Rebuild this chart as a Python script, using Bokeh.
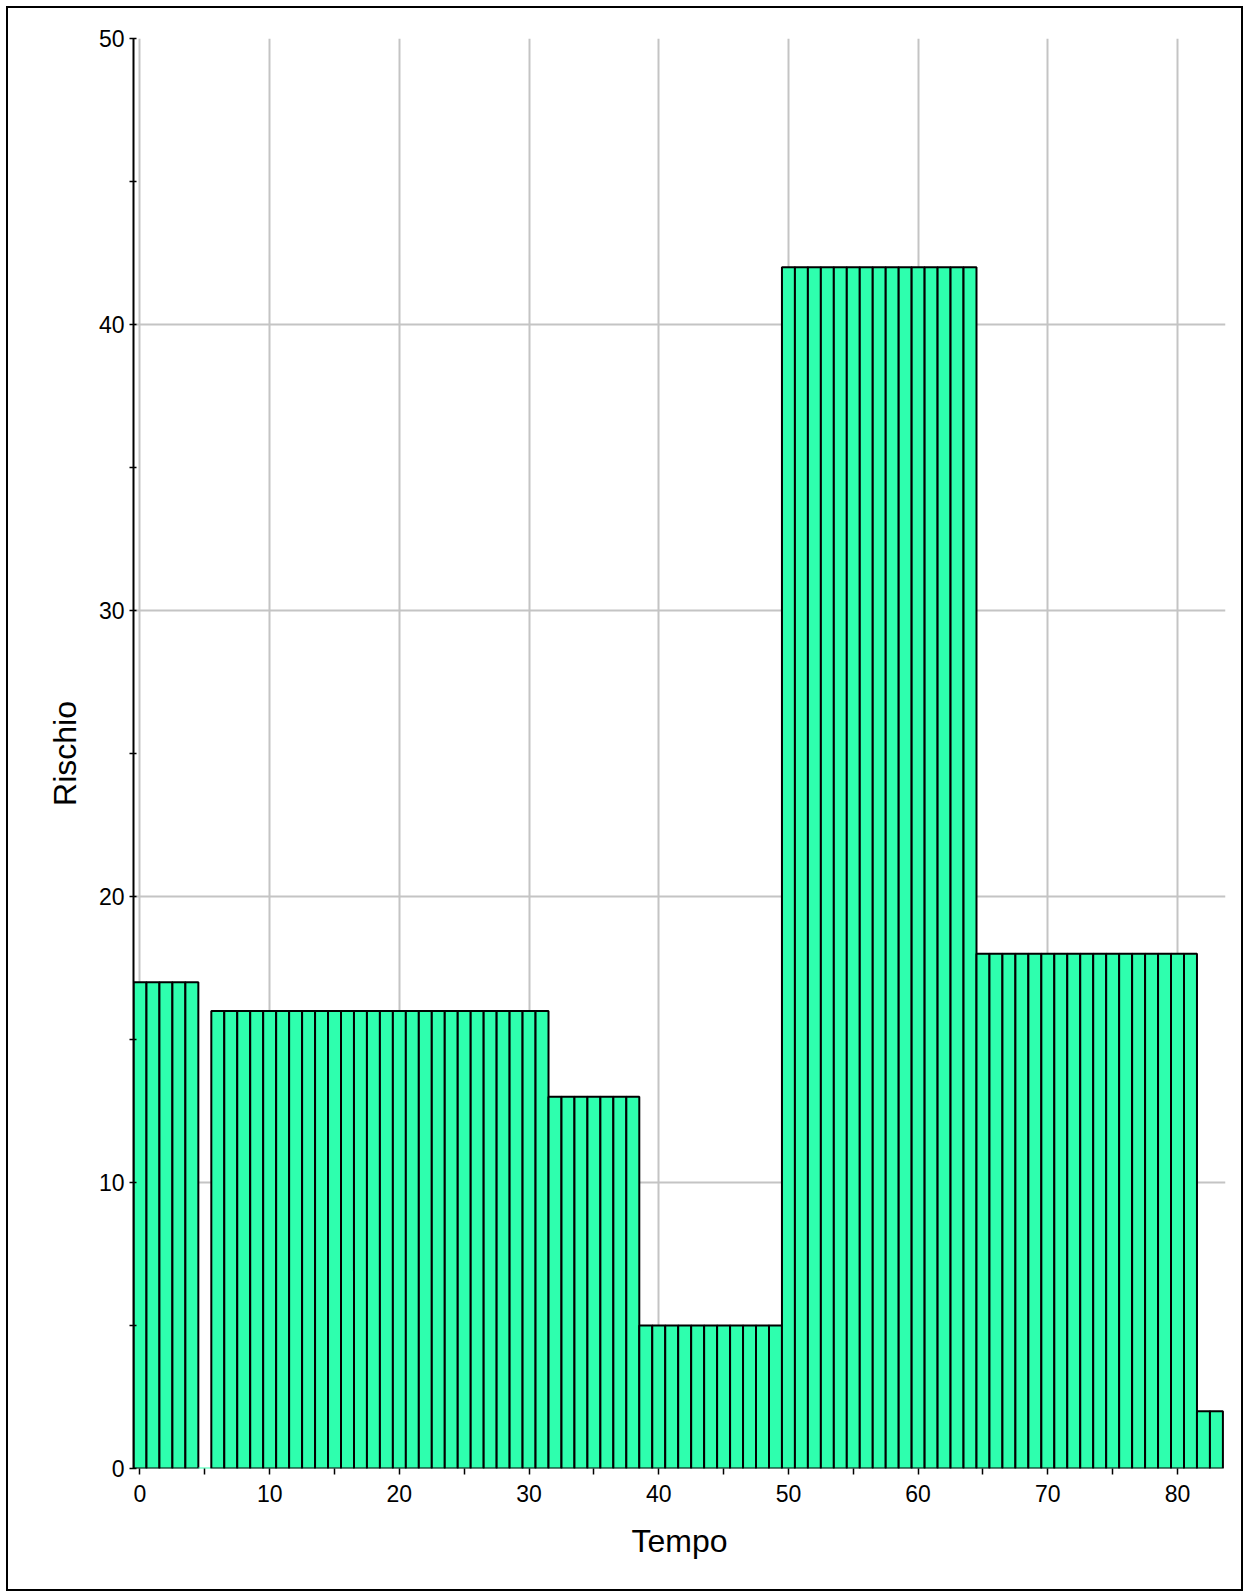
from bokeh.plotting import figure
from bokeh.models import FixedTicker, ColumnDataSource
from bokeh.embed import file_html
from bokeh.resources import INLINE

# ---- data ----
tempo = list(range(84))
rischio = [17, 17, 17, 17, 17,
           0,
           16, 16, 16, 16, 16, 16, 16, 16, 16, 16, 16, 16, 16,
           16, 16, 16, 16, 16, 16, 16, 16, 16, 16, 16, 16, 16,
           13, 13, 13, 13, 13, 13, 13,
           5, 5, 5, 5, 5, 5, 5, 5, 5, 5, 5,
           42, 42, 42, 42, 42, 42, 42, 42, 42, 42, 42, 42, 42, 42, 42,
           18, 18, 18, 18, 18, 18, 18, 18, 18, 18, 18, 18, 18, 18, 18, 18, 18,
           2, 2]
x_major = [0, 10, 20, 30, 40, 50, 60, 70, 80]
x_minor = [5, 15, 25, 35, 45, 55, 65, 75]
y_major = [0, 10, 20, 30, 40, 50]
y_minor = [5, 15, 25, 35, 45]

FILL = "#2EFFAE"
FONT = "Liberation Sans"

line_cols = ["black" if v > 0 else FILL for v in rischio]
src = ColumnDataSource(dict(x=tempo, top=rischio, lc=line_cols))

p = figure(width=1237, height=1585, output_backend="svg", toolbar_location=None,
           x_range=(-0.5, 83.7), y_range=(0, 50),
           min_border_left=125, min_border_right=20, min_border_top=30, min_border_bottom=125,
           styles={"border": "2px solid black"})
p.margin = (6, 0, 0, 6)
p.outline_line_color = None
p.background_fill_color = "white"
p.border_fill_color = "white"

p.vbar(x="x", top="top", bottom=0, width=1, source=src,
       fill_color=FILL, line_color="lc", line_width=2)

# axes
xa = p.xaxis[0]
xa.ticker = FixedTicker(ticks=x_major, minor_ticks=x_minor)
xa.axis_line_color = None
xa.major_tick_in = 0
xa.major_tick_out = 6
xa.minor_tick_in = 0
xa.minor_tick_out = 6
xa.major_tick_line_width = 1.5
xa.minor_tick_line_width = 1.5
xa.major_label_text_font = FONT
xa.major_label_text_font_size = "23px"
xa.major_label_text_color = "black"
xa.major_label_standoff = 10
xa.axis_label = "Tempo"
xa.axis_label_text_font = FONT
xa.axis_label_text_font_size = "32px"
xa.axis_label_text_font_style = "normal"
xa.axis_label_text_color = "black"
xa.axis_label_standoff = 18

ya = p.yaxis[0]
ya.ticker = FixedTicker(ticks=y_major, minor_ticks=y_minor)
ya.axis_line_color = "black"
ya.axis_line_width = 2
ya.major_tick_in = 3
ya.major_tick_out = 4
ya.minor_tick_in = 3
ya.minor_tick_out = 4
ya.major_tick_line_width = 1.5
ya.minor_tick_line_width = 1.5
ya.major_label_text_font = FONT
ya.major_label_text_font_size = "23px"
ya.major_label_text_color = "black"
ya.major_label_standoff = 5
ya.axis_label = "Rischio"
ya.axis_label_text_font = FONT
ya.axis_label_text_font_size = "32px"
ya.axis_label_text_font_style = "normal"
ya.axis_label_text_color = "black"
ya.axis_label_standoff = 13

p.xgrid.ticker = FixedTicker(ticks=x_major)
p.ygrid.ticker = FixedTicker(ticks=y_major)
for g in (p.xgrid[0], p.ygrid[0]):
    g.grid_line_color = "#C4C4C4"
    g.grid_line_width = 2
    g.level = "underlay"

open("out.html", "w").write(file_html(p, INLINE))
